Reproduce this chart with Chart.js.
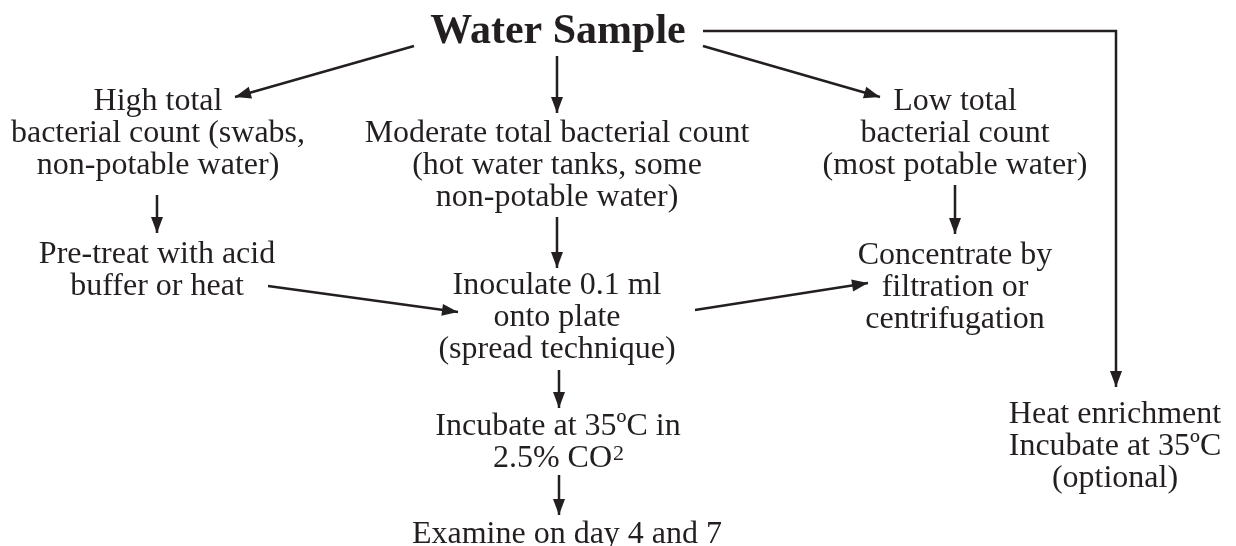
<!DOCTYPE html>
<html lang="en">
<head>
    <meta charset="UTF-8">
    <title>Water Sample Flow</title>
    <script src="https://cdn.jsdelivr.net/npm/chart.js"></script>
    <style>
        body {
            margin: 0;
            background: #fff;
        }
        .chart-container {
            position: relative;
            width: 1236px;
            height: 546px;
        }
    </style>
</head>
<body>
    <div class="chart-container">
        <canvas id="flowChart"></canvas>
    </div>

    <script>
        // boxes of the flow: text lines, centre x and first baseline y (chart units)
        const nodeLines = [
            ['Water Sample'],
            ['High total', 'bacterial count (swabs,', 'non-potable water)'],
            ['Moderate total bacterial count', '(hot water tanks, some', 'non-potable water)'],
            ['Low total', 'bacterial count', '(most potable water)'],
            ['Pre-treat with acid', 'buffer or heat'],
            ['Inoculate 0.1 ml', 'onto plate', '(spread technique)'],
            ['Concentrate by', 'filtration or', 'centrifugation'],
            ['Incubate at 35ºC in', '2.5% CO^2'],
            ['Examine on day 4 and 7'],
            ['Heat enrichment', 'Incubate at 35ºC', '(optional)']
        ];
        const nodeX = [558, 158, 557, 955, 157, 557, 955, 558, 567, 1115];
        const nodeY = [43, 110, 142, 110, 263, 294, 264, 435, 543, 423];

        // arrows between boxes, last point is the arrow tip
        const linkX = [
            [414, 235], [557, 557], [703, 880], [703, 1116, 1116],
            [157, 157], [557, 557], [955, 955],
            [268, 458], [695, 868],
            [559, 559], [559, 559]
        ];
        const linkY = [
            [46, 97], [56, 113], [46, 97], [31, 31, 387],
            [195, 233], [217, 268], [185, 234],
            [286, 312], [310, 283],
            [370, 408], [475, 515]
        ];

        const ink = '#231f20';

        const flowPlugin = {
            id: 'flowPlugin',
            afterDatasetsDraw(chart) {
                const ctx = chart.ctx;
                const xs = chart.scales.x;
                const ys = chart.scales.y;
                ctx.save();
                ctx.fillStyle = ink;

                // arrow heads
                linkX.forEach((lx, i) => {
                    const ly = linkY[i];
                    const n = lx.length;
                    const x1 = xs.getPixelForValue(lx[n - 2]), y1 = ys.getPixelForValue(ly[n - 2]);
                    const x2 = xs.getPixelForValue(lx[n - 1]), y2 = ys.getPixelForValue(ly[n - 1]);
                    const a = Math.atan2(y2 - y1, x2 - x1);
                    const len = 16, half = 6;
                    ctx.beginPath();
                    ctx.moveTo(x2, y2);
                    ctx.lineTo(x2 - len * Math.cos(a) + half * Math.sin(a), y2 - len * Math.sin(a) - half * Math.cos(a));
                    ctx.lineTo(x2 - len * Math.cos(a) - half * Math.sin(a), y2 - len * Math.sin(a) + half * Math.cos(a));
                    ctx.closePath();
                    ctx.fill();
                });

                // box texts
                ctx.textBaseline = 'alphabetic';
                nodeLines.forEach((lines, i) => {
                    const cx = xs.getPixelForValue(nodeX[i]);
                    const by = ys.getPixelForValue(nodeY[i]);
                    const font = i === 0 ? "bold 42px 'Liberation Serif'" : "32px 'Liberation Serif'";
                    lines.forEach((line, j) => {
                        const y = by + j * 32;
                        const parts = line.split('^');
                        ctx.font = font;
                        const w0 = ctx.measureText(parts[0]).width;
                        let w1 = 0;
                        if (parts[1]) {
                            ctx.font = "22px 'Liberation Serif'";
                            w1 = ctx.measureText(parts[1]).width;
                        }
                        const left = cx - (w0 + w1) / 2;
                        ctx.textAlign = 'left';
                        ctx.font = font;
                        ctx.fillText(parts[0], left, y);
                        if (parts[1]) {
                            ctx.font = "22px 'Liberation Serif'";
                            ctx.fillText(parts[1], left + w0 + 1, y - 7);
                        }
                    });
                });
                ctx.restore();
            }
        };

        const ctx = document.getElementById('flowChart').getContext('2d');
        new Chart(ctx, {
            type: 'scatter',
            data: {
                datasets: linkX.map((lx, i) => ({
                    data: lx.map((x, k) => ({ x: x, y: linkY[i][k] })),
                    showLine: true,
                    borderColor: ink,
                    borderWidth: 2.5,
                    pointRadius: 0,
                    fill: false,
                    tension: 0
                }))
            },
            options: {
                responsive: true,
                maintainAspectRatio: false,
                animation: false,
                layout: { padding: 0 },
                plugins: {
                    legend: { display: false },
                    tooltip: { enabled: false }
                },
                scales: {
                    x: { type: 'linear', min: 0, max: 1236, display: false },
                    y: { type: 'linear', min: 0, max: 546, reverse: true, display: false }
                }
            },
            plugins: [flowPlugin]
        });
    </script>
</body>
</html>
